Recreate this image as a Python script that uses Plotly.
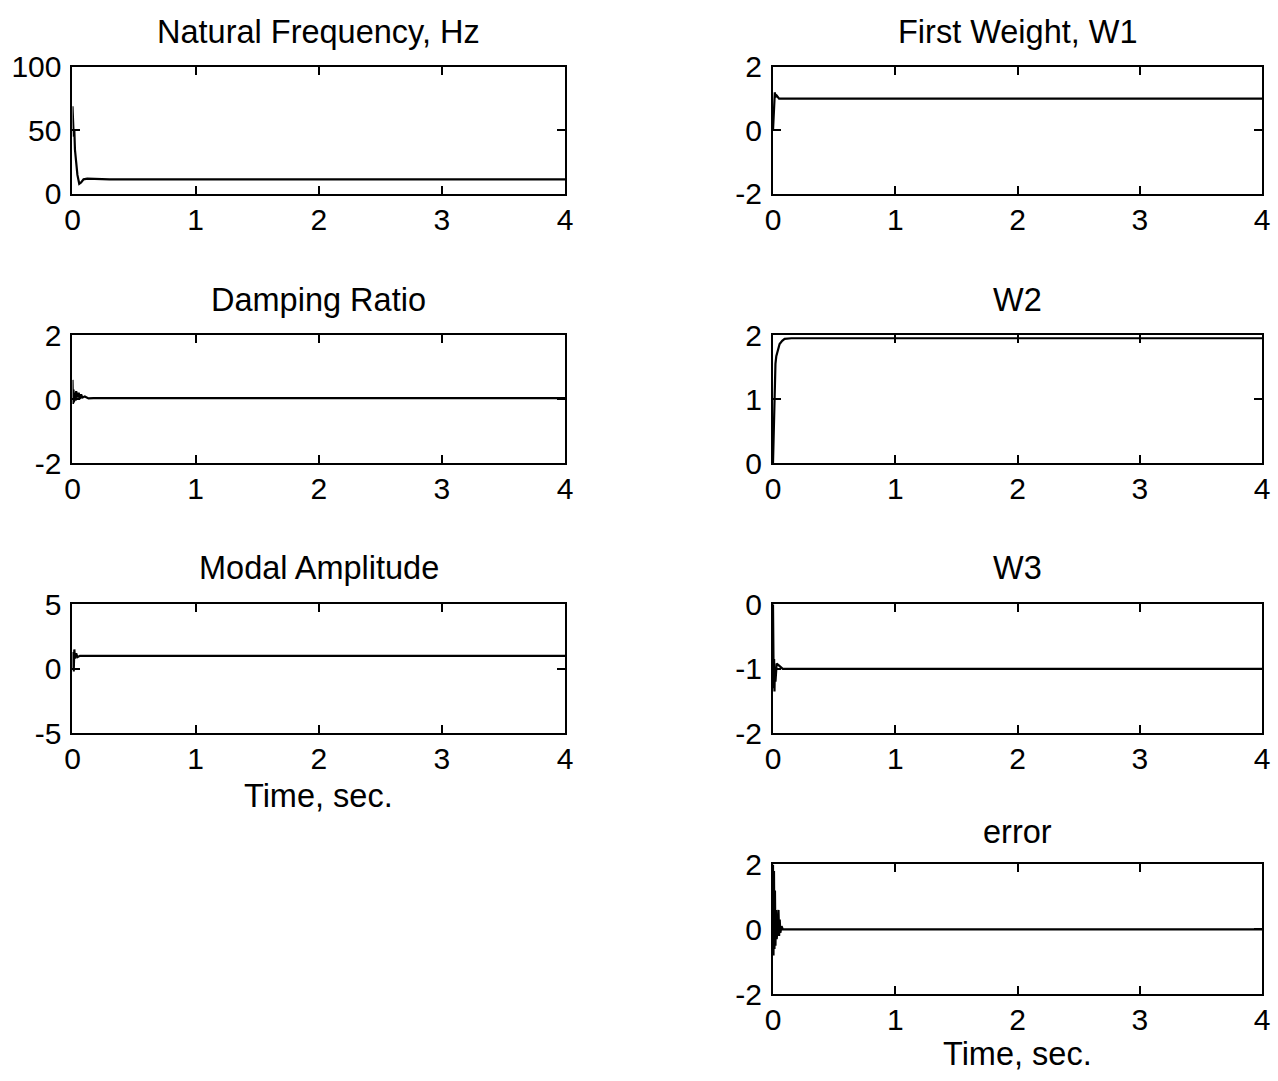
import plotly.graph_objects as go

# ---- data -------------------------------------------------------------
T_END = 4.0

t_wn = [0, 0.003, 0.006, 0.01, 0.015, 0.02, 0.03, 0.04, 0.055, 0.07, 0.09, 0.12, 0.3, 4.0]
wn = [69, 55, 60, 45, 50, 35, 25, 15, 8, 9, 11.5, 12, 11.5, 11.5]

t_zeta = [0, 0.004, 0.008, 0.012, 0.018, 0.025, 0.03, 0.04, 0.05, 0.06, 0.07, 0.08, 0.1, 0.13, 0.17, 4.0]
zeta = [0.6, -0.15, 0.3, -0.1, 0.2, -0.05, 0.25, 0.05, 0.2, 0.0, 0.15, 0.05, 0.08, 0.02, 0.03, 0.03]

t_amp = [0, 0.005, 0.01, 0.015, 0.02, 0.03, 0.04, 0.06, 4.0]
amp = [0.0, 1.3, -0.2, 1.5, 0.8, 1.2, 0.9, 1.0, 1.0]

t_w1 = [0, 0.005, 0.01, 0.015, 0.02, 0.03, 0.05, 0.08, 4.0]
w1 = [0.0, 0.4, 0.9, 1.2, 1.05, 1.1, 1.0, 1.0, 1.0]

t_w2 = [0, 0.006, 0.01, 0.015, 0.02, 0.027, 0.04, 0.054, 0.075, 0.095, 0.15, 4.0]
w2 = [0.0, 0.6, 1.0, 1.3, 1.55, 1.67, 1.78, 1.86, 1.91, 1.94, 1.95, 1.95]

t_w3 = [0, 0.003, 0.006, 0.009, 0.012, 0.015, 0.02, 0.03, 0.05, 0.08, 0.1, 4.0]
w3 = [0.0, -0.9, -1.3, -0.85, -1.35, -1.0, -1.2, -0.92, -0.95, -1.0, -1.0, -1.0]

t_err = [0, 0.004, 0.008, 0.012, 0.016, 0.02, 0.025, 0.03, 0.04, 0.045, 0.05, 0.055, 0.06, 0.07, 0.08, 0.1, 4.0]
err = [2.0, -0.8, 1.8, -0.6, 1.2, -0.5, 0.6, -0.3, 0.1, 0.6, -0.2, 0.3, -0.1, 0.1, 0.0, 0.0, 0.0]

x_ticks = [0, 1, 2, 3, 4]

# title, t, y, y-range, y-ticks, column, row
panels = [
    ("Natural Frequency, Hz", t_wn, wn, [0, 100], [0, 50, 100], 0, 0),
    ("Damping Ratio", t_zeta, zeta, [-2, 2], [-2, 0, 2], 0, 1),
    ("Modal Amplitude", t_amp, amp, [-5, 5], [-5, 0, 5], 0, 2),
    ("First Weight, W1", t_w1, w1, [-2, 2], [-2, 0, 2], 1, 0),
    ("W2", t_w2, w2, [0, 2], [0, 1, 2], 1, 1),
    ("W3", t_w3, w3, [-2, 0], [-2, -1, 0], 1, 2),
    ("error", t_err, err, [-2, 2], [-2, 0, 2], 1, 3),
]

# ---- layout geometry (figure pixels) -----------------------------------
W, H = 1278, 1081
col_px = [(65.3, 564.1), (774.7, 1270.0)]
row_px = [(51.6, 182.7), (328.4, 460.6), (606.3, 739.6), (874.9, 1009.2)]
title_px = [15.4, 292.2, 569.1, 841.8]
xlabel_px = [804.6, 1071.0]
xlabel_col = [0, 1]

FONT = "Arial, Liberation Sans, Helvetica, sans-serif"
TICK_SIZE = 30
TEXT_SIZE = 32.5

fig = go.Figure()
layout = dict(
    width=W, height=H,
    margin=dict(l=0, r=0, t=0, b=0),
    paper_bgcolor="white", plot_bgcolor="white",
    showlegend=False,
    font=dict(family=FONT, size=TICK_SIZE, color="black"),
    annotations=[],
)

axis_style = dict(
    showline=True, linecolor="black", linewidth=2,
    mirror="ticks", ticks="inside", ticklen=8, tickwidth=2, tickcolor="black",
    showgrid=False, zeroline=False,
    tickfont=dict(family=FONT, size=TICK_SIZE, color="black"),
)

for i, (title, t, y, yr, yt, col, row) in enumerate(panels, start=1):
    xa = "x" if i == 1 else f"x{i}"
    ya = "y" if i == 1 else f"y{i}"
    fig.add_trace(go.Scatter(
        x=t, y=y, xaxis=xa, yaxis=ya, mode="lines",
        line=dict(color="black", width=2.2),
        hoverinfo="skip",
    ))
    x0, x1 = col_px[col]
    top, bot = row_px[row]
    layout["xaxis" if i == 1 else f"xaxis{i}"] = dict(
        axis_style,
        domain=[x0 / W, x1 / W], range=[0, T_END],
        tickvals=x_ticks, ticktext=[str(v) for v in x_ticks],
        ticklabelstandoff=-2,
        anchor=ya,
    )
    layout["yaxis" if i == 1 else f"yaxis{i}"] = dict(
        axis_style,
        domain=[1 - bot / H, 1 - top / H], range=yr,
        tickvals=yt, ticktext=[str(v) for v in yt],
        ticklabelstandoff=3,
        anchor=xa,
    )
    layout["annotations"].append(dict(
        text=title, xref="paper", yref="paper",
        x=(x0 + x1) / 2 / W, y=1 - title_px[row] / H,
        xanchor="center", yanchor="middle", showarrow=False,
        font=dict(family=FONT, size=TEXT_SIZE, color="black"),
    ))

# x-axis labels under the bottom panel of each column
for col, cy in zip(xlabel_col, xlabel_px):
    x0, x1 = col_px[col]
    layout["annotations"].append(dict(
        text="Time, sec.", xref="paper", yref="paper",
        x=(x0 + x1) / 2 / W, y=1 - cy / H, xanchor="center", yanchor="middle",
        showarrow=False, font=dict(family=FONT, size=TEXT_SIZE, color="black"),
    ))

fig.update_layout(**layout)
fig.write_html("out.html")
